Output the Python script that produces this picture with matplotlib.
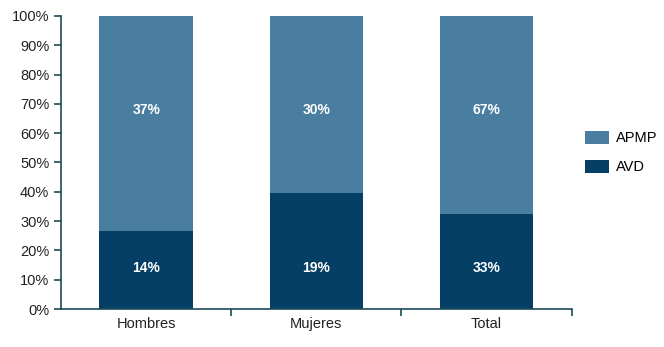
import matplotlib.pyplot as plt
from matplotlib.ticker import PercentFormatter

# Data
categories = ['Hombres', 'Mujeres', 'Total']
avd_labels = [14, 19, 33]
apmp_labels = [37, 30, 67]
# bar split as drawn (share of AVD in each 100% bar)
avd_share = [26.5, 39.5, 32.4]
apmp_share = [100 - v for v in avd_share]

c_apmp = '#4a7ea0'
c_avd = '#053f65'
c_axis = '#1d4a58'

plt.rcParams['font.family'] = ['Liberation Sans', 'DejaVu Sans']

fig = plt.figure(figsize=(6.64, 3.47), dpi=100)
ax = fig.add_axes([0.092, 0.1095, 0.769, 0.8445])

x = range(len(categories))
ax.bar(x, avd_share, width=0.55, color=c_avd, label='AVD')
ax.bar(x, apmp_share, width=0.55, bottom=avd_share, color=c_apmp, label='APMP')

for i in x:
    ax.text(i, 14, f'{avd_labels[i]}%', ha='center', va='center',
            color='white', fontsize=10, fontweight='bold')
    ax.text(i, 68, f'{apmp_labels[i]}%', ha='center', va='center',
            color='white', fontsize=10, fontweight='bold')

ax.set_xlim(-0.5, 2.5)
ax.set_ylim(0, 100)
ax.set_yticks(range(0, 101, 10))
ax.yaxis.set_major_formatter(PercentFormatter(decimals=0))
ax.set_xticks(list(x))
ax.set_xticklabels(categories)
ax.set_xticks([0.5, 1.5, 2.5], minor=True)
ax.tick_params(axis='x', which='major', length=0, pad=6, labelsize=10.5, colors='#222222')
ax.tick_params(axis='x', which='minor', length=5, color=c_axis, width=1.2)
ax.tick_params(axis='y', length=5, color=c_axis, width=1.2, labelsize=10.5, labelcolor='#222222')

for s in ['top', 'right']:
    ax.spines[s].set_visible(False)
for s in ['left', 'bottom']:
    ax.spines[s].set_color(c_axis)
    ax.spines[s].set_linewidth(1.2)

h, l = ax.get_legend_handles_labels()
fig.legend(h[::-1], l[::-1], loc='center left', bbox_to_anchor=(0.862, 0.56),
           frameon=False, fontsize=10.5, handlelength=1.6, handleheight=1.0,
           labelspacing=1.0, handletextpad=0.5)

fig.savefig('out.png', dpi=100)
